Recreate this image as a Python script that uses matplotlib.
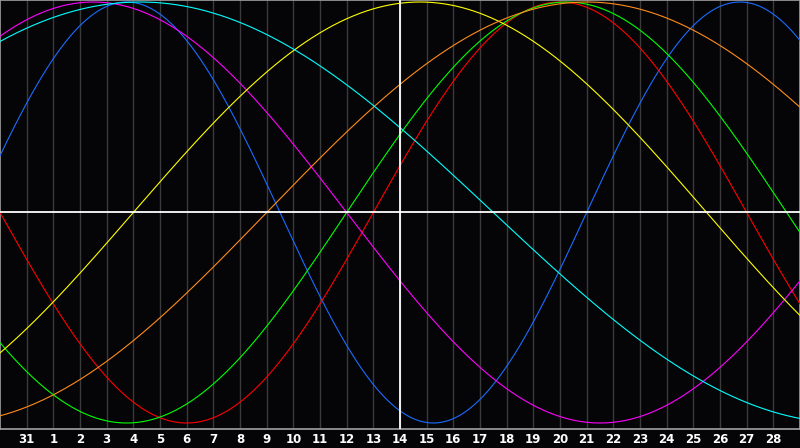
import numpy as np
import matplotlib
matplotlib.use("Agg")
import matplotlib.pyplot as plt

# ---- data ----
cycle_names = ["Physical", "Emotional", "Intellectual", "Intuitive",
               "Aesthetic", "Awareness", "Spiritual"]
cycle_periods = [23, 28, 33, 38, 43, 48, 53]
cycle_colors = ["#1a6cff", "#ff0000", "#00ff00", "#ff00ff",
                "#ffff00", "#ff8c1a", "#00ffff"]
days_alive_at_start = 20678          # days since birth at the left edge
day_labels = ["31"] + [str(d) for d in range(1, 29)]
today_index = 15                     # position of "14"

W, H = 800, 448
fig = plt.figure(figsize=(W / 100, H / 100), dpi=100, facecolor="#050508")
plot_bottom_px = 429
ax = fig.add_axes([0, (H - plot_bottom_px) / H, 1, plot_bottom_px / H])
ax.set_facecolor("#050508")

n_days = len(day_labels) + 1
x = np.linspace(0, n_days, 1200)
for name, per, col in zip(cycle_names, cycle_periods, cycle_colors):
    y = np.sin(2 * np.pi * (days_alive_at_start + x) / per)
    ax.plot(x, y, color=col, lw=0.8, zorder=3, label=name)

# grid lines
for k in range(1, n_days):
    ax.axvline(k, color="#3a3a3a", lw=1.0, zorder=1)

ax.axhline(0, color="white", lw=1.3, zorder=4)
ax.axvline(today_index, color="white", lw=1.3, zorder=4)

ax.set_xlim(0, n_days)
top_px, zero_px = 2, 212.5
amp = zero_px - top_px
ax.set_ylim((zero_px - plot_bottom_px) / amp, zero_px / amp)

ax.set_xticks([])
ax.set_yticks([])
for s in ax.spines.values():
    s.set_color("#a0a0a0")
    s.set_linewidth(1.2)

for k, lab in enumerate(day_labels, start=1):
    fig.text(k / n_days, 1 - 439 / H, lab, color="white", fontsize=8.5,
             fontweight="bold", ha="center", va="center",
             family="DejaVu Sans")

fig.savefig("out.png", dpi=100, facecolor=fig.get_facecolor())
